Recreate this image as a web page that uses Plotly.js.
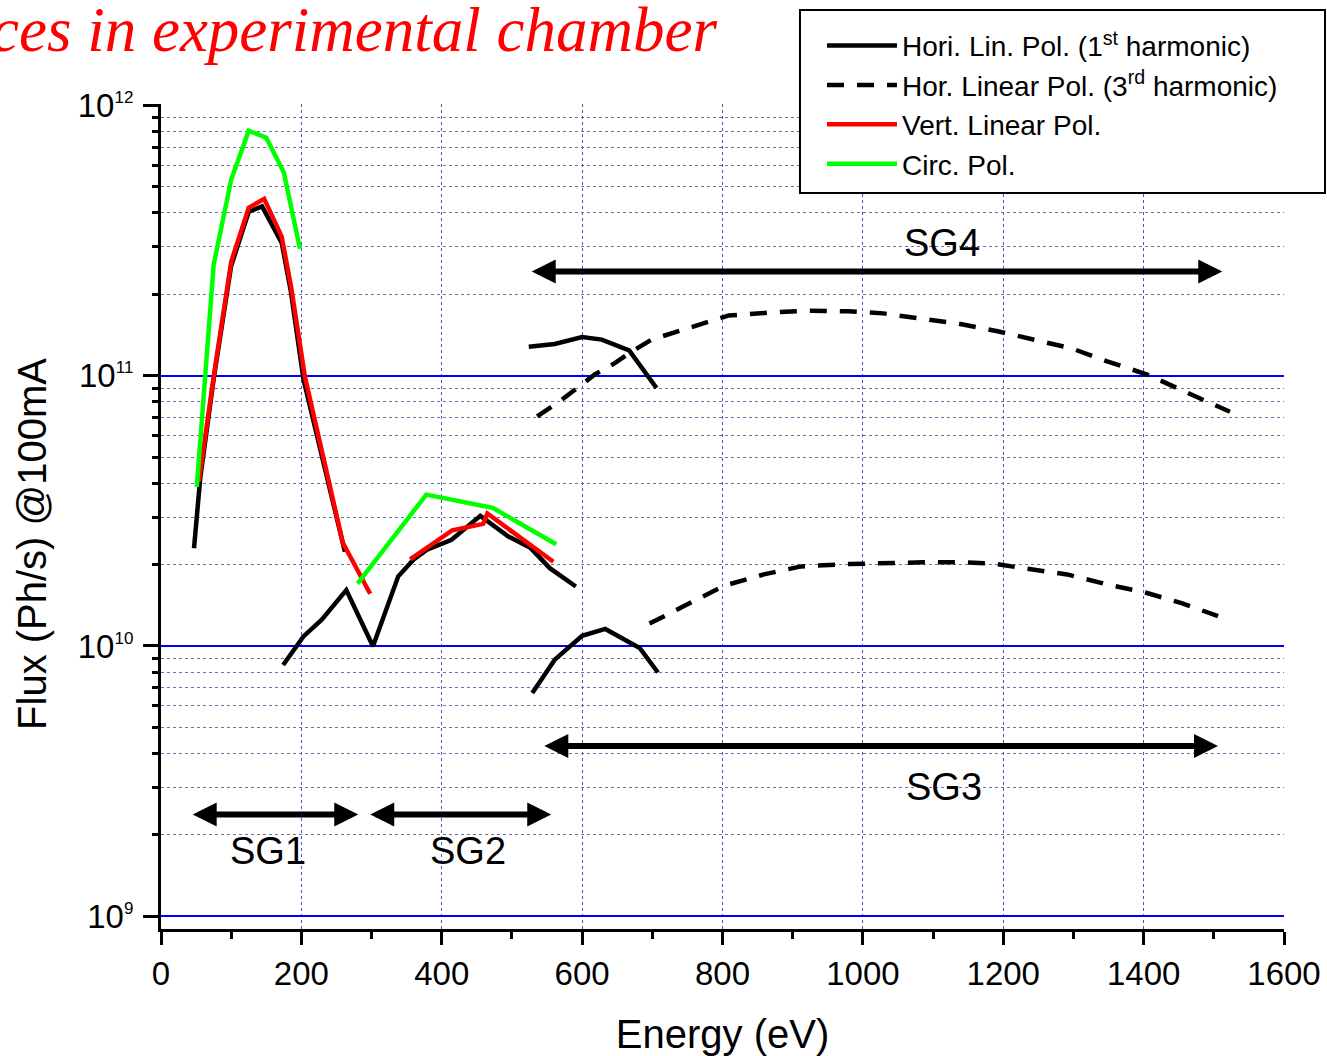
<!DOCTYPE html>
<html>
<head>
<meta charset="utf-8">
<script src="https://cdn.plot.ly/plotly-3.0.1.min.js"></script>
<style>
  html, body { margin: 0; padding: 0; background: #ffffff; }
  #chart { width: 1327px; height: 1056px; }
</style>
</head>
<body>
<div id="chart"></div>
<script>
// Photon flux (Ph/s @100mA) versus photon energy (eV) for the four gratings SG1..SG4.
// Segments belonging to different gratings are separated by null entries.

// Horizontal linear polarisation, 1st harmonic
const hor1Energy = [47, 56, 75, 100, 125, 144, 172, 185, 203, 262, null,
  174, 203, 229, 264, 302, 338, 360, 379, 414, 455, 495, 526, 554, 591, null,
  524, 561, 600, 628, 667, 706, null,
  529, 561, 600, 633, 682, 708];
const hor1Flux = [2.30e10, 4.2e10, 9.7e10, 2.55e11, 4.04e11, 4.23e11, 3.1e11, 2.05e11, 9.7e10, 2.23e10, null,
  8.5e9, 1.085e10, 1.25e10, 1.61e10, 9.97e9, 1.81e10, 2.09e10, 2.27e10, 2.47e10, 3.03e10, 2.54e10, 2.31e10, 1.94e10, 1.66e10, null,
  1.28e11, 1.31e11, 1.39e11, 1.36e11, 1.24e11, 9.0e10, null,
  6.7e9, 8.9e9, 1.09e10, 1.156e10, 9.83e9, 7.98e9];

// Horizontal linear polarisation, 3rd harmonic
const hor3Energy = [536, 565, 593, 618, 646, 671, 699, 756, 809, 866, 923, 979, 1029, 1086, 1135, 1192, 1241, 1298, 1348, 1405, 1458, 1523, null,
  696, 752, 802, 859, 912, 979, 1036, 1086, 1135, 1185, 1234, 1291, 1348, 1405, 1454, 1506];
const hor3Flux = [7.07e10, 7.93e10, 9.0e10, 1.01e11, 1.11e11, 1.23e11, 1.36e11, 1.52e11, 1.67e11, 1.71e11, 1.74e11, 1.73e11, 1.70e11, 1.62e11, 1.56e11, 1.46e11, 1.36e11, 1.26e11, 1.13e11, 1.01e11, 8.75e10, 7.35e10, null,
  1.21e10, 1.43e10, 1.67e10, 1.84e10, 1.97e10, 2.01e10, 2.03e10, 2.04e10, 2.04e10, 2.02e10, 1.93e10, 1.84e10, 1.69e10, 1.57e10, 1.44e10, 1.29e10];

// Vertical linear polarisation
const vertEnergy = [54, 75, 100, 125, 147, 172, 186, 205, 259, 298, null,
  355, 379, 415, 459, 465, 559];
const vertFlux = [4.05e10, 9.9e10, 2.64e11, 4.18e11, 4.51e11, 3.27e11, 2.08e11, 9.92e10, 2.41e10, 1.56e10, null,
  2.09e10, 2.31e10, 2.68e10, 2.83e10, 3.09e10, 2.05e10];

// Circular polarisation
const circEnergy = [51, 75, 100, 125, 150, 175, 198, null,
  280, 378, 473, 563];
const circFlux = [3.88e10, 2.57e11, 5.31e11, 8.06e11, 7.59e11, 5.64e11, 2.95e11, null,
  1.70e10, 3.63e10, 3.24e10, 2.38e10];

// Series names
const seriesNames = [
  'Hori. Lin. Pol. (1<sup>st</sup> harmonic)',
  'Hor. Linear Pol. (3<sup>rd</sup> harmonic)',
  'Vert. Linear Pol.',
  'Circ. Pol.'
];

// Grating ranges (eV) and label positions
const gratingNames = ['SG1', 'SG2', 'SG3', 'SG4'];
const gratingFrom = [43, 296, 544, 526];
const gratingTo = [281, 556, 1506, 1512];
const gratingArrowFlux = [2.38e9, 2.38e9, 4.27e9, 2.43e11];
const gratingLabelEnergy = [152, 437, 1115, 1113];
const gratingLabelFlux = [1.75e9, 1.75e9, 3.0e9, 3.1e11];

// Axis ticks
const xTickVals = [0, 200, 400, 600, 800, 1000, 1200, 1400, 1600];
const decadeExps = [9, 10, 11, 12];
const yTickVals = decadeExps.map(e => Math.pow(10, e));
const yTickText = decadeExps.map(e => '10<sup><span style="font-size:17px">' + e + '</span></sup>');
const yGridVals = [1e9, 1e10, 1e11];

const FONT = '"Liberation Sans", Arial, Helvetica, sans-serif';
const yRange = [8.953, 12.005];

// minor decade positions 2..9 for the dotted grid
const minorVals = [];
for (let d = 9; d <= 11; d++) {
  for (let m = 2; m <= 9; m++) minorVals.push(m * Math.pow(10, d));
}

const lineW = 4.5;
const traces = [
  // empty traces on the overlay axes so their grids and ticks are drawn
  { x: [], y: [], yaxis: 'y2', showlegend: false, hoverinfo: 'skip', mode: 'lines' },
  { x: [], y: [], yaxis: 'y3', showlegend: false, hoverinfo: 'skip', mode: 'lines' },
  { x: hor1Energy, y: hor1Flux, name: seriesNames[0], mode: 'lines', connectgaps: false,
    line: { color: '#000000', width: lineW } },
  { x: hor3Energy, y: hor3Flux, name: seriesNames[1], mode: 'lines', connectgaps: false,
    line: { color: '#000000', width: lineW, dash: '17px,13px' } },
  { x: vertEnergy, y: vertFlux, name: seriesNames[2], mode: 'lines', connectgaps: false,
    line: { color: '#ff0000', width: lineW } },
  { x: circEnergy, y: circFlux, name: seriesNames[3], mode: 'lines', connectgaps: false,
    line: { color: '#00ff00', width: lineW } }
];

const annotations = [];
for (let i = 0; i < gratingNames.length; i++) {
  const ly = Math.log10(gratingArrowFlux[i]);
  annotations.push({
    x: gratingTo[i], y: ly, ax: gratingFrom[i], ay: ly,
    xref: 'x', yref: 'y', axref: 'x', ayref: 'y',
    text: '', showarrow: true, arrowside: 'end+start',
    arrowhead: 2, startarrowhead: 2, arrowsize: 0.8, startarrowsize: 0.8,
    arrowwidth: 6, arrowcolor: '#000000', standoff: 0, startstandoff: 0
  });
  annotations.push({
    x: gratingLabelEnergy[i], y: Math.log10(gratingLabelFlux[i]),
    xref: 'x', yref: 'y', text: gratingNames[i], showarrow: false,
    font: { family: FONT, size: 38, color: '#000000' }
  });
}
// heading
annotations.push({
  x: 0.497, y: 1.090, xref: 'paper', yref: 'paper', xanchor: 'right', yanchor: 'middle',
  text: 'ces in experimental chamber', showarrow: false,
  font: { family: '"Liberation Serif", "Times New Roman", serif', size: 63, color: '#ff0000', style: 'italic' }
});
// y axis title
annotations.push({
  x: -0.1149, y: 0.4667, xref: 'paper', yref: 'paper', xanchor: 'center', yanchor: 'middle',
  text: 'Flux (Ph/s) @100mA', textangle: -90, showarrow: false,
  font: { family: FONT, size: 40, color: '#000000' }
});

const layout = {
  width: 1327, height: 1056,
  margin: { l: 161, r: 43, t: 104, b: 127 },
  paper_bgcolor: '#ffffff', plot_bgcolor: '#ffffff',
  font: { family: FONT, color: '#000000' },
  showlegend: true,
  legend: {
    x: 0.5886, y: 1.1008, xanchor: 'left', yanchor: 'top',
    bgcolor: 'rgba(0,0,0,0)', borderwidth: 0,
    font: { family: FONT, size: 28, color: '#000000' },
    itemwidth: 70, tracegroupgap: 0
  },
  // legend frame
  shapes: [{
    type: 'rect', xref: 'paper', yref: 'paper', layer: 'above',
    x0: 0.569, x1: 1.0365, y0: 0.8921, y1: 1.1139,
    fillcolor: '#ffffff', line: { color: '#000000', width: 2 }
  }],
  xaxis: {
    range: [0, 1600], tickmode: 'array', tickvals: xTickVals,
    ticks: 'outside', ticklen: 13, tickwidth: 3, tickcolor: '#000000',
    showline: true, linecolor: '#000000', linewidth: 3, mirror: false,
    showgrid: true, gridcolor: '#5050c0', gridwidth: 1, griddash: 'dot',
    zeroline: false,
    tickfont: { family: FONT, size: 33, color: '#000000' },
    minor: { dtick: 100, tick0: 0, ticks: 'outside', ticklen: 7, tickwidth: 3, tickcolor: '#000000', showgrid: false },
    title: { text: 'Energy (eV)', font: { family: FONT, size: 40, color: '#000000' }, standoff: 31 }
  },
  yaxis: {
    type: 'log', range: yRange, tickmode: 'array', tickvals: yTickVals, ticktext: yTickText,
    ticks: 'outside', ticklen: 15, tickwidth: 3, tickcolor: '#000000', ticklabelstandoff: 3,
    showline: true, linecolor: '#000000', linewidth: 3,
    showgrid: false, zeroline: false,
    tickfont: { family: FONT, size: 33, color: '#000000' }
  },
  yaxis2: {
    type: 'log', range: yRange, overlaying: 'y', side: 'left', anchor: 'x',
    tickmode: 'array', tickvals: minorVals, showticklabels: false,
    ticks: 'outside', ticklen: 8, tickwidth: 3, tickcolor: '#000000',
    showgrid: true, gridcolor: '#7070a8', gridwidth: 1, griddash: 'dot',
    showline: false, zeroline: false
  },
  yaxis3: {
    type: 'log', range: yRange, overlaying: 'y', side: 'left', anchor: 'x',
    tickmode: 'array', tickvals: yGridVals, showticklabels: false, ticks: '',
    showgrid: true, gridcolor: '#0000ff', gridwidth: 2,
    showline: false, zeroline: false
  },
  annotations: annotations
};

Plotly.newPlot('chart', traces, layout, { staticPlot: true });
</script>
</body>
</html>
